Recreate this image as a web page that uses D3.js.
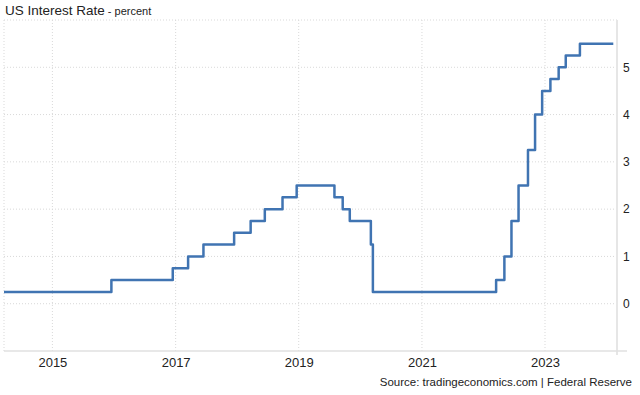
<!DOCTYPE html>
<html>
<head>
<meta charset="utf-8">
<script src="https://cdn.jsdelivr.net/npm/d3@7"></script>
<style>
  body { margin: 0; background: #fff; }
  svg { display: block; font-family: "Liberation Sans", Arial, sans-serif; }
  .grid line { stroke: #d9d9d9; stroke-dasharray: 1,2; }
</style>
</head>
<body>
<div id="chart"></div>
<script>
// rate decisions (upper bound of target range), percent
var changeDates = ["2014-03-20", "2015-12-17", "2016-12-15", "2017-03-16", "2017-06-15",
  "2017-12-14", "2018-03-22", "2018-06-14", "2018-09-27", "2018-12-20",
  "2019-08-01", "2019-09-19", "2019-10-31", "2020-03-04", "2020-03-16",
  "2022-03-17", "2022-05-05", "2022-06-16", "2022-07-28", "2022-09-22",
  "2022-11-03", "2022-12-15", "2023-02-02", "2023-03-23", "2023-05-04",
  "2023-07-27", "2024-02-10"];
var rateValues = [0.25, 0.5, 0.75, 1.0, 1.25,
  1.5, 1.75, 2.0, 2.25, 2.5,
  2.25, 2.0, 1.75, 1.25, 0.25,
  0.5, 1.0, 1.75, 2.5, 3.25,
  4.0, 4.5, 4.75, 5.0, 5.25,
  5.5, 5.5];
var yearTicks = [2015, 2017, 2019, 2021, 2023];
var yTicks = [0, 1, 2, 3, 4, 5];

var W = 640, H = 395;
var margin = {top: 20, right: 23, bottom: 44, left: 4};
var width = W - margin.left - margin.right,
    height = H - margin.top - margin.bottom;

var parse = d3.timeParse("%Y-%m-%d");
var data = changeDates.map(function(d, i) { return {date: parse(d), value: rateValues[i]}; });

var svg = d3.select("#chart").append("svg")
    .attr("width", W)
    .attr("height", H);

var g = svg.append("g")
    .attr("transform", "translate(" + margin.left + "," + margin.top + ")");

var x = d3.scaleTime()
    .domain([parse("2014-03-20"), parse("2024-03-03")])
    .range([0, width]);

var y = d3.scaleLinear()
    .domain([-1, 6])
    .range([height, 0]);

// horizontal grid
g.append("g")
    .attr("class", "grid")
    .selectAll("line")
    .data(yTicks)
    .enter().append("line")
    .attr("x1", 0).attr("x2", width)
    .attr("y1", function(d) { return y(d); })
    .attr("y2", function(d) { return y(d); });

// vertical grid
g.append("g")
    .attr("class", "grid")
    .selectAll("line")
    .data(yearTicks)
    .enter().append("line")
    .attr("x1", function(d) { return x(new Date(d, 0, 1)); })
    .attr("x2", function(d) { return x(new Date(d, 0, 1)); })
    .attr("y1", 0).attr("y2", height);

// frame: dotted top/left, solid bottom/right
g.append("line")
    .attr("x1", 0).attr("x2", width).attr("y1", 0).attr("y2", 0)
    .style("stroke", "#d9d9d9").style("stroke-dasharray", "1,2");
g.append("line")
    .attr("x1", 0).attr("x2", 0).attr("y1", 0).attr("y2", height)
    .style("stroke", "#d9d9d9").style("stroke-dasharray", "1,2");
g.append("line")
    .attr("x1", width).attr("x2", width).attr("y1", 0).attr("y2", height + 4)
    .style("stroke", "#e6e6e6").style("stroke-width", 2);
g.append("line")
    .attr("x1", 0).attr("x2", width + 10).attr("y1", height).attr("y2", height)
    .style("stroke", "#e0e0e0").style("stroke-width", 1.5);

// x axis labels
var xAxis = g.append("g")
    .attr("transform", "translate(0," + height + ")")
    .call(d3.axisBottom(x)
      .tickValues(yearTicks.map(function(d) { return new Date(d, 0, 1); }))
      .tickFormat(d3.timeFormat("%Y"))
      .tickSize(0)
      .tickPadding(7));
xAxis.select(".domain").remove();
xAxis.selectAll("text")
    .style("font-family", "Liberation Sans, Arial, sans-serif")
    .style("font-size", "13px")
    .style("fill", "#222");

// y axis labels on the right
var yAxis = g.append("g")
    .attr("transform", "translate(" + width + ",0)")
    .call(d3.axisRight(y)
      .tickValues(yTicks)
      .tickFormat(d3.format("d"))
      .tickSize(0)
      .tickPadding(6));
yAxis.select(".domain").remove();
yAxis.selectAll("text")
    .style("font-family", "Liberation Sans, Arial, sans-serif")
    .style("font-size", "12px")
    .style("fill", "#222");

// the rate line
var line = d3.line()
    .x(function(d) { return x(d.date); })
    .y(function(d) { return y(d.value); })
    .curve(d3.curveStepAfter);

g.append("path")
    .datum(data)
    .attr("fill", "none")
    .attr("stroke", "#4074b2")
    .attr("stroke-width", 2.5)
    .attr("stroke-linejoin", "round")
    .attr("d", line);

// title
var title = svg.append("text")
    .attr("x", 5)
    .attr("y", 15)
    .style("fill", "#222");
title.append("tspan")
    .style("font-size", "13.5px")
    .text("US Interest Rate");
title.append("tspan")
    .style("font-size", "11px")
    .text(" - percent");

// source
svg.append("text")
    .attr("x", 632)
    .attr("y", 386)
    .attr("text-anchor", "end")
    .style("font-size", "11.5px")
    .style("fill", "#222")
    .text("Source: tradingeconomics.com | Federal Reserve");
</script>
</body>
</html>
